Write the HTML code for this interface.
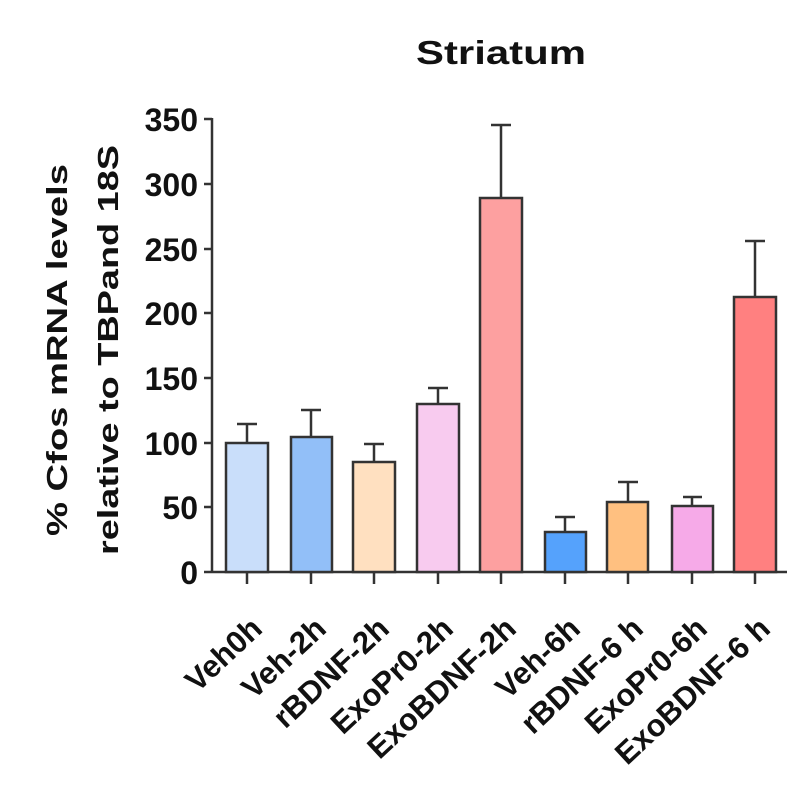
<!DOCTYPE html>
<html><head><style>body{margin:0;background:#fff}</style></head><body>
<svg width="800" height="787" xmlns="http://www.w3.org/2000/svg" font-family="Liberation Sans, sans-serif" font-weight="bold">
<rect width="800" height="787" fill="#fff"/>
<text x="501" y="64" font-size="33" text-anchor="middle" fill="#111" textLength="170" lengthAdjust="spacingAndGlyphs">Striatum</text>
<g font-size="29" text-anchor="middle" fill="#111">
<text transform="translate(67,350) rotate(-90)" textLength="372" lengthAdjust="spacingAndGlyphs">% Cfos mRNA levels</text>
<text transform="translate(118,350) rotate(-90)" textLength="410" lengthAdjust="spacingAndGlyphs">relative to TBPand 18S</text>
</g>
<g stroke="#333" stroke-width="2.5" fill="none">
<line x1="212" y1="118" x2="212" y2="572"/>
<line x1="204" y1="572" x2="787" y2="572"/>
<line x1="204" y1="119" x2="212" y2="119"/><line x1="204" y1="184" x2="212" y2="184"/><line x1="204" y1="249" x2="212" y2="249"/><line x1="204" y1="313" x2="212" y2="313"/><line x1="204" y1="378" x2="212" y2="378"/><line x1="204" y1="443" x2="212" y2="443"/><line x1="204" y1="507" x2="212" y2="507"/>
</g>
<g font-size="32" text-anchor="end" fill="#111">
<text x="198" y="131">350</text><text x="198" y="196">300</text><text x="198" y="261">250</text><text x="198" y="325">200</text><text x="198" y="390">150</text><text x="198" y="455">100</text><text x="198" y="519">50</text><text x="198" y="584">0</text>
</g>
<g stroke="#333" stroke-width="2.5">
<line x1="247" y1="443" x2="247" y2="424"/><line x1="237" y1="424" x2="257" y2="424"/>
<line x1="311" y1="437" x2="311" y2="410"/><line x1="301" y1="410" x2="321" y2="410"/>
<line x1="374" y1="462" x2="374" y2="444"/><line x1="364" y1="444" x2="384" y2="444"/>
<line x1="438" y1="404" x2="438" y2="388"/><line x1="428" y1="388" x2="448" y2="388"/>
<line x1="501" y1="198" x2="501" y2="125"/><line x1="491" y1="125" x2="511" y2="125"/>
<line x1="565" y1="532" x2="565" y2="517"/><line x1="555" y1="517" x2="575" y2="517"/>
<line x1="628" y1="502" x2="628" y2="482"/><line x1="618" y1="482" x2="638" y2="482"/>
<line x1="692" y1="506" x2="692" y2="497"/><line x1="683" y1="497" x2="702" y2="497"/>
<line x1="755" y1="297" x2="755" y2="241"/><line x1="745" y1="241" x2="765" y2="241"/>
</g>
<g stroke="#333" stroke-width="2.5">
<rect x="226" y="443" width="42" height="129" fill="#c9defa"/>
<rect x="291" y="437" width="41" height="135" fill="#92bff8"/>
<rect x="353" y="462" width="42" height="110" fill="#ffe0c0"/>
<rect x="417" y="404" width="42" height="168" fill="#f8cbef"/>
<rect x="480" y="198" width="42" height="374" fill="#fda0a0"/>
<rect x="545" y="532" width="41" height="40" fill="#55a2fc"/>
<rect x="607" y="502" width="41" height="70" fill="#ffc080"/>
<rect x="672" y="506" width="41" height="66" fill="#f6aae8"/>
<rect x="734" y="297" width="42" height="275" fill="#ff8080"/>
<line x1="247" y1="572" x2="247" y2="584"/><line x1="311" y1="572" x2="311" y2="584"/><line x1="374" y1="572" x2="374" y2="584"/><line x1="438" y1="572" x2="438" y2="584"/><line x1="501" y1="572" x2="501" y2="584"/><line x1="565" y1="572" x2="565" y2="584"/><line x1="628" y1="572" x2="628" y2="584"/><line x1="692" y1="572" x2="692" y2="584"/><line x1="755" y1="572" x2="755" y2="584"/>
</g>
<g font-size="31" text-anchor="end" fill="#111">
<text transform="translate(264,631) rotate(-43)">Veh0h</text>
<text transform="translate(328,631) rotate(-43)">Veh-2h</text>
<text transform="translate(391,631) rotate(-43)">rBDNF-2h</text>
<text transform="translate(455,631) rotate(-43)">ExoPr0-2h</text>
<text transform="translate(518,631) rotate(-43)">ExoBDNF-2h</text>
<text transform="translate(582,631) rotate(-43)">Veh-6h</text>
<text transform="translate(645,631) rotate(-43)">rBDNF-6 h</text>
<text transform="translate(709,631) rotate(-43)">ExoPr0-6h</text>
<text transform="translate(772,631) rotate(-43)">ExoBDNF-6 h</text>
</g>
</svg>
</body></html>
